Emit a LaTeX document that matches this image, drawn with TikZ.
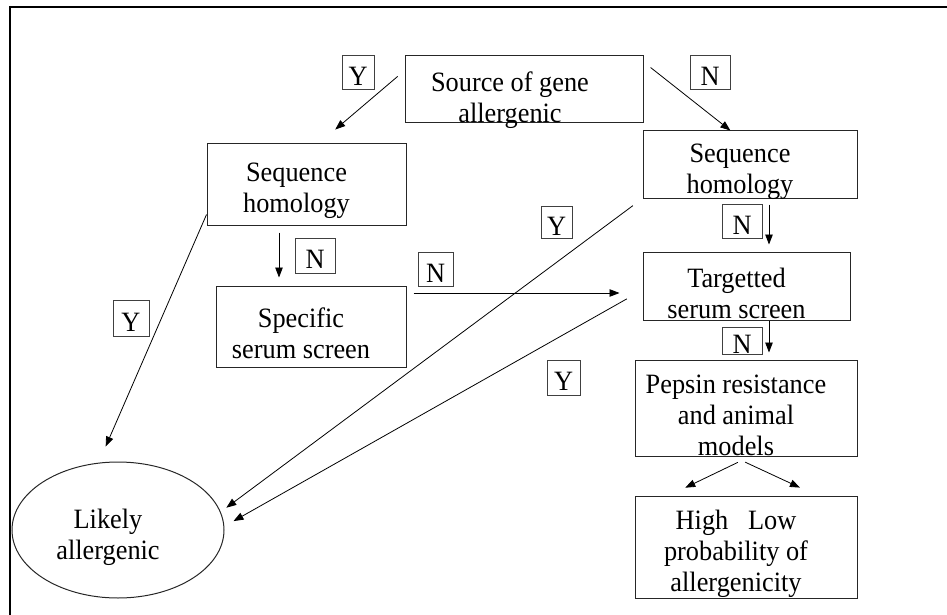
\documentclass[tikz,border=0pt]{standalone}
\usepackage{fontspec}
\setmainfont{Liberation Serif}[FakeStretch=0.94]
\usetikzlibrary{arrows.meta, shapes.geometric}
\tikzset{every picture/.style={x=1pt,y=-1pt,every node/.style={font=\fontsize{28}{31}\selectfont, align=center, inner sep=2pt}}}
\tikzset{box/.style={rectangle, draw=black!85, line width=1pt},
  txt/.style={label={[xshift=-10pt,yshift=-7pt]center:#1}},
  lbl/.style={rectangle, draw=black!75, line width=0.8pt, inner sep=0pt, label={[yshift=-4pt]center:#1}},
  arr/.style={-{Triangle[length=10pt,width=7.5pt]}, line width=0.8pt},
  frame/.style={line width=2.5pt}}

\begin{document}
\begin{tikzpicture}
        \useasboundingbox (0,0) rectangle (947,615);
        \draw[frame] (9,7) -- (947,7);
        \draw[frame] (10,6) -- (10,615);

        \node[box, minimum width=238pt, minimum height=67pt, label={[xshift=-14pt,yshift=-11pt]center:Source of gene\\allergenic}] (src) at (524,89.5) {};
        \node[box, minimum width=199pt, minimum height=82pt, txt=Sequence\\homology] (seqL) at (306.5,184) {};
        \node[box, minimum width=190pt, minimum height=81pt, txt=Specific\\serum screen] (spec) at (311,326.5) {};
        \node[box, minimum width=214pt, minimum height=67pt, txt=Sequence\\homology] (seqR) at (750,164.5) {};
        \node[box, minimum width=207pt, minimum height=68pt, txt=Targetted\\serum screen] (targ) at (746.5,286) {};
        \node[box, minimum width=222pt, minimum height=96pt, txt=Pepsin resistance\\and animal\\models] (pep) at (746,408) {};
        \node[box, minimum width=222pt, minimum height=102pt, txt=High\ \ \ Low\\probability of\\allergenicity] (prob) at (746,547) {};
        \node[ellipse, draw=black!85, line width=1pt, minimum width=212pt, minimum height=136pt, txt=Likely\\allergenic] (likely) at (118,530) {};

        \node[lbl=Y, minimum width=32pt, minimum height=34pt] (yA) at (358,72) {};
        \node[lbl=N, minimum width=40pt, minimum height=34pt] (nA) at (710,72) {};
        \node[lbl=N, minimum width=40pt, minimum height=35pt] (nB) at (315,255.5) {};
        \node[lbl=N, minimum width=35pt, minimum height=34pt] (nC) at (435.5,269) {};
        \node[lbl=Y, minimum width=36pt, minimum height=36pt] (yB) at (131,318) {};
        \node[lbl=Y, minimum width=31pt, minimum height=32pt] (yC) at (556.5,222) {};
        \node[lbl=Y, minimum width=33pt, minimum height=35pt] (yD) at (563.5,377.5) {};
        \node[lbl=N, minimum width=40pt, minimum height=34pt] (nD) at (742,221) {};
        \node[lbl=N, minimum width=40pt, minimum height=27pt] (nE) at (742,340.5) {};

        \draw[arr, shorten <=9pt, shorten >=20pt] (src.171) -- (seqL.72);
        \draw[arr, shorten <=9pt] (src.13) -- (seqR.120);
        \draw[arr, shorten >=17.5pt] (seqL.197) -- (likely.106);
        \draw[arr, shorten <=7pt, shorten >=8pt] ([xshift=-27.5pt]seqL.south) -- ([xshift=-32pt]spec.north);
        \draw[arr, shorten <=7pt, shorten >=23pt] ([yshift=33.5pt]spec.east) -- ([yshift=-7pt]targ.west);
        \draw[arr, shorten <=12pt, shorten >=7pt] (seqR.south west) -- (likely.10);
        \draw[arr, shorten <=6pt, shorten >=7pt] ([xshift=19pt]seqR.south) -- ([xshift=22.5pt]targ.north);
        \draw[arr, shorten <=18pt, shorten >=10.5pt] ([yshift=-4pt]targ.west) -- (likely.2);
        \draw[arr, shorten >=7pt] ([xshift=22.5pt]targ.south) -- ([xshift=23pt]pep.north);
        \draw[arr, shorten <=13.5pt, shorten >=18pt] ([xshift=4pt]pep.south) -- ([xshift=-77pt]prob.north);
        \draw[arr, shorten <=13.4pt, shorten >=18.8pt] ([xshift=-13pt]pep.south) -- ([xshift=71pt]prob.north);
      \end{tikzpicture}
\end{document}
